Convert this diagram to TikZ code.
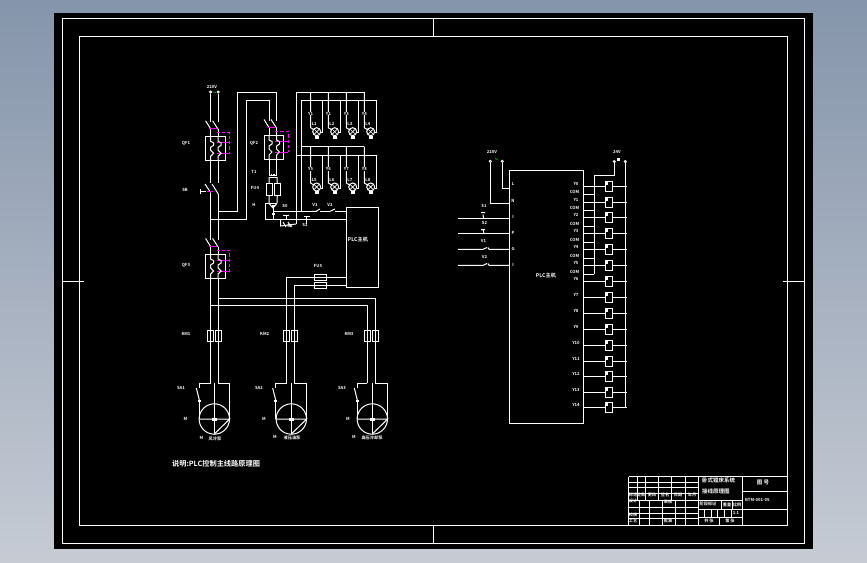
\documentclass[tikz,border=0pt]{standalone}
\usepackage{fontspec}
\setmainfont{Noto Sans CJK SC}[BoldFont={Noto Sans CJK SC Bold}]
\definecolor{bgtop}{HTML}{8595AB}
\definecolor{bgbot}{HTML}{C6CBD4}
\definecolor{mag}{HTML}{FF00FF}
\definecolor{grn}{HTML}{00D000}
\tikzset{
 wire/.style={draw=white,line width=1pt,line cap=butt,line join=miter},
 magw/.style={draw=mag,line width=1pt},
 magd/.style={draw=mag,line width=1pt,dash pattern=on 3.4pt off 2pt},
 lbl/.style={text=white,font=\fontsize{4.2pt}{5pt}\selectfont\bfseries,inner sep=0pt},
 captxt/.style={text=white,font=\fontsize{7.2pt}{8pt}\selectfont\bfseries,inner sep=0pt},
 plctxt/.style={text=white,font=\fontsize{5.2pt}{6pt}\selectfont\bfseries,inner sep=0pt},
 rectbox/.style={draw=white,line width=1pt,fill=none,inner sep=0pt,outer sep=0pt},
 coil/.style={rectbox,minimum width=7.4pt,minimum height=9.5pt},
 fusebox/.style={rectbox,minimum width=6.2pt,minimum height=11.5pt},
 hfuse/.style={rectbox,minimum width=12pt,minimum height=6.2pt},
 term/.style={draw=white,line width=0.8pt,fill=black,circle,inner sep=0pt,minimum size=2.2pt},
}
\newcommand{\breakerunit}[4]{% x of left wire, y of box top, height, name
 \begin{scope}[shift={(#1,#2)}]
  \node[rectbox,minimum width=19.4pt,minimum height=#3pt,anchor=north west] (#4) at (-4.7,0) {};
  \draw[wire] (-5,-15.5) -- (0,-7.5) (2,-15.5) -- (7.5,-7);
  \draw[wire] (0,-7.5) -- (0,0) (7.5,-7) -- (7.5,0);
  \draw[magw] (-1.5,-8) -- (6.5,-8);
  \draw[magd] (6,-4) -- (19,-4) -- (19,17);
  \draw[magw] (6,6.5) -- (19,6.5) (6,17) -- (19,17);
  \draw[wire] (0,0) -- (0,5) -- (3,6.5) -- (3,9) -- (0,11) -- (0,14) -- (3,17) -- (0,20) -- (0,#3);
  \draw[wire] (7.5,0) -- (7.5,5) -- (10.5,6.5) -- (10.5,9) -- (7.5,11) -- (7.5,14) -- (10.5,17) -- (7.5,20) -- (7.5,#3);
 \end{scope}}
\newcommand{\lampunit}[8]{% lamp x, lamp y, left wire x, left top y, right wire x, right top y, top label, lamp label
 \coordinate (lampc) at (#1,#2);
 \draw[wire] (#3,#4) -- (#3,{#2-4}) -- (lampc);
 \draw[wire] (#5,#6) -- (#5,{#2+1}) -- ({#1+4},{#2+1});
 \draw[wire,fill=black] (lampc) circle (4);
 \draw[wire,line width=0.7pt] ({#1-2.8},{#2-2.8}) -- ({#1+2.8},{#2+2.8}) ({#1-2.8},{#2+2.8}) -- ({#1+2.8},{#2-2.8});
 \node[lbl,fill=black] at (#3,{#2-18}) {#7};
 \node[lbl] at ({#3+3.5},{#2-7.5}) {#8};
 \fill[white] ({#1-2},{#2+4}) rectangle ({#1+2},{#2+7});
}
\newcommand{\motorunit}[5]{% centre x, left x, right x, wire left x, wire right x
 \coordinate (mc) at (#1,419);
 \draw[wire] (#4,383.3) -- (#2,383.3) -- (#2,388);
 \draw[wire] ({#2-3},388) -- (#2,400);
 \draw[wire] (#2,401) -- (#2,419);
 \draw[wire] (#5,383.3) -- (#3,383.3) -- (#3,419);
 \draw[wire] (#1,383.3) -- (#1,434);
 \draw[wire] (#2,419) -- (#3,419) -- (#1,434);
 \draw[wire] (mc) circle (15.2);
 \fill[white] ({#2-1.5},400) rectangle ({#2+1.5},402);
 \fill[white] ({#1-2.5},418) rectangle ({#1+2.5},421);
}
\begin{document}
\begin{tikzpicture}[x=1pt,y=-1pt]
\useasboundingbox (0,0) rectangle (867,562);
\shade[top color=bgtop,bottom color=bgbot] (0,0) rectangle (867,562);
\fill[black] (54,13) rectangle (812.7,548.7);
% frames
\draw[wire] (62.3,18.5) rectangle (804.7,543.3);
\draw[wire] (79.3,36.3) rectangle (787.5,525);
\draw[wire] (433.3,18.5) -- (433.3,36.3) (433.3,525) -- (433.3,543.3);
\draw[wire] (62.3,281) -- (84,281) (783,281) -- (804.7,281);
% ---------- left diagram: mains
\node[term] (t1) at (210.6,92) {};
\node[term] (t2) at (218.3,92) {};
\draw[green!70!black,line width=0.8pt] (213,92) -- (216,92.5);
\node[lbl] at (212,87) {220V};
\draw[wire] (t1) -- (210.6,122);
\draw[wire] (t2) -- (218.3,122);
\breakerunit{210.6}{136.3}{24.4}{qf1}
\breakerunit{269}{135}{24.3}{qf2}
\breakerunit{210.6}{254}{24.3}{qf3}
% knife switch
\draw[wire] (210.6,160.7) -- (210.6,183) (218.3,160.7) -- (218.3,183);
\draw[wire] (205,184) -- (210.6,192.5) (212,184) -- (218.3,194);
\draw[wire] (210.6,192.5) -- (210.6,240) (218.3,194) -- (218.3,240);
\draw[wire] (200,189) -- (200,194) (200,191.5) -- (206,191.5);
\draw[magw] (207,191.5) -- (213,191.5);
% branches to QF2
\draw[wire] (218.3,211.3) -- (237.7,211.3) -- (237.7,92.7) -- (276.5,92.7) -- (276.5,121);
\draw[wire] (210.6,219.3) -- (246.7,219.3) -- (246.7,100.3) -- (269,100.3) -- (269,121);
% transformer + fuses
\draw[wire] (269,159.3) -- (269,175) (276.5,159.3) -- (276.5,175);
\draw[wire] (269,175) -- (277,175);
\draw[wire,line width=0.6pt,dash pattern=on 1pt off 0.8pt] (269,173.8) -- (277,173.8);
\draw[wire] (269,177) -- (277,177);
\node[fusebox] (fa) at (269.1,189.5) {};
\node[fusebox] (fb) at (277.3,189.5) {};
\draw[wire] (269,177) -- (fa.north) (fa.south) -- (269,203.3);
\draw[wire] (277,177) -- (fb.north) (fb.south) -- (277,203.3);
% control circuit
\node[rectbox,minimum width=32.4pt,minimum height=79.7pt,anchor=north west] (plcA) at (346.3,207.3) {};
\draw[wire] (277,203.3) -- (265.3,203.3) -- (265.3,219.3) -- (plcA.west |- 0,219.3);
\draw[wire] (269.5,204) -- (273,208) -- (276.5,204);
\draw[wire] (273,208) -- (273,219.3);
\draw[wire] (273,211.3) -- (312,211.3);
\fill[white] (271.5,213) rectangle (274.5,215);
\fill[white] (271.5,204.5) rectangle (274.5,207);
\draw[wire] (320,211.3) -- (330,211.3) (335,211.3) -- (plcA.west |- 0,211.3);
\draw[wire] (312,211.3) -- (317,211.3) (316,211.3) -- (320,209);
\draw[wire] (330,211.3) -- (335,209);
% start/stop buttons
\draw[wire] (283,215) -- (289,215) (286.7,215) -- (286.7,219.3);
\draw[wire] (304,216) -- (310,216) (306.7,216) -- (306.7,224);
\draw[wire] (280.6,219.3) -- (280.6,226) -- (296,224);
\draw[wire] (283,222) -- (286,227) (288,222) -- (291,227);
% lamp buses
\draw[wire] (296,224) -- (296,92) -- (364.3,92);
\draw[wire] (301.3,211.3) -- (301.3,100.5) -- (376.7,100.5);
\draw[wire] (301.3,146.7) -- (364.3,146.7);
\draw[wire] (296,155.7) -- (376.7,155.7);
\lampunit{316.7}{131.7}{310.7}{92}{322.5}{100.5}{Y1}{L1}
\lampunit{334.7}{131.7}{328.3}{92}{340.5}{100.5}{Y2}{L2}
\lampunit{352.7}{131.7}{346.3}{92}{358.3}{100.5}{Y3}{L3}
\lampunit{370.7}{131.7}{364.3}{92}{376.7}{100.5}{Y4}{L4}
\lampunit{316.7}{187}{310.7}{146.7}{322.5}{155.7}{Y5}{L5}
\lampunit{334.7}{187}{328.3}{146.7}{340.5}{155.7}{Y6}{L6}
\lampunit{352.7}{187}{346.3}{146.7}{358.3}{155.7}{Y7}{L7}
\lampunit{370.7}{187}{364.3}{146.7}{376.7}{155.7}{Y8}{L8}
% motor feeds
\draw[wire] (210.6,278.3) -- (210.6,383.3) (218.3,278.3) -- (218.3,383.3);
\draw[wire] (218.3,298.3) -- (375.3,298.3) -- (375.3,383.3);
\draw[wire] (210.6,305.3) -- (367.3,305.3) -- (367.3,383.3);
\draw[wire] (plcA.west |- 0,277.3) -- (286.7,277.3) -- (286.7,383.3);
\draw[wire] (plcA.west |- 0,285.3) -- (294.3,285.3) -- (294.3,383.3);
\node[hfuse] (h1) at (320.7,277.5) {};
\node[hfuse] (h2) at (320.7,285.5) {};
\draw[wire] (312.5,285.3) -- (328.7,285.3);
\foreach \a/\b in {210.3/218.4,286.3/294.4,367.3/375.5}{
 \node[fusebox] at (\a,336) {};
 \node[fusebox] at (\b,336) {};
}
\draw[wire] (286.8,327) -- (286.8,345);
\draw[wire] (367.3,327) -- (367.3,341.7);
\motorunit{214.3}{199.3}{229.7}{210.6}{218.3}
\motorunit{291.3}{275.7}{306.7}{286.7}{294.3}
\motorunit{372.3}{357.3}{387.7}{367.3}{375.3}
% labels
\node[lbl] at (186,143) {QF1};
\node[lbl] at (185,190) {SB};
\node[lbl] at (186,265) {QF3};
\node[lbl] at (254,143) {QF2};
\node[lbl] at (254,172) {T1};
\node[lbl] at (255,188) {FU4};
\node[lbl] at (254,205) {H};
\node[lbl] at (285,206) {S0};
\node[lbl] at (290,226) {S1};
\node[lbl] at (305,225) {S2};
\node[lbl] at (315,205) {V1};
\node[lbl] at (330,205) {V2};
\node[lbl] at (318,266) {FU5};
\node[lbl] at (186,334) {KM1};
\node[lbl] at (264.7,334) {KM2};
\node[lbl] at (349,334) {KM3};
\node[lbl] at (181,388) {SA1};
\node[lbl] at (259,388) {SA2};
\node[lbl] at (342,388) {SA3};
\node[lbl] at (185.5,418.5) {M};
\node[lbl] at (264,419) {M};
\node[lbl] at (348,419) {M};
\node[lbl] at (201.5,437.5) {M};
\node[lbl] at (215,438.5) {风冷泵};
\node[lbl] at (275,437) {M};
\node[lbl] at (292,438) {液压油泵};
\node[lbl] at (354,437) {M};
\node[lbl] at (372,438) {高压冷却泵};
\node[plctxt] at (358,239.5) {PLC主机};
\node[captxt,anchor=west] at (172,464) {说明:PLC控制主线路原理图};
% ---------- right diagram
\node[rectbox,minimum width=74pt,minimum height=253pt,anchor=north west] (plcB) at (509.3,170.3) {};
\node[term] (r1) at (490.3,161.3) {};
\node[term] (r2) at (502.3,161.3) {};
\node[term] (r3) at (614.3,161.6) {};
\node[term] (r4) at (625.3,161.6) {};
\draw[wire] (r1) -- (490.3,203.3) -- (plcB.west |- 0,203.3);
\draw[wire] (r2) -- (502.3,188.3) -- (plcB.west |- 0,188.3);
\draw[grn,line width=0.8pt] (495,158.5) -- (497.5,159.5);
\node[lbl] at (492,152) {220V};
\node[lbl] at (617,152) {24V};
\fill[white] (617,157.5) rectangle (620,161);
\draw[wire] (r3) -- (614.3,175.3) -- (594.3,175.3) -- (594.3,274.3);
\draw[wire] (r4) -- (625.3,407.3);
% inputs
\coordinate (ia) at (458,218.3);
\coordinate (ib) at (458,233.3);
\coordinate (ic) at (458,249.3);
\coordinate (id) at (458,265.3);
\draw[wire] (ia) -- (plcB.west |- ia);
\draw[wire] (ib) -- (plcB.west |- ib);
\draw[wire] (ic) -- (483,249.3) -- (487,247.5) (488,247.5) -- (489,249.3) -- (plcB.west |- ic);
\draw[wire] (id) -- (483,265.3) -- (487,263.5) (488,263.5) -- (489,265.3) -- (plcB.west |- id);
\draw[wire] (481,212.5) -- (485,212.5) (483,214.5) -- (483.5,218.3);
\draw[wire] (481,229.5) -- (485,229.5) (483,229.5) -- (484,233.3);
\node[lbl] at (484,205.5) {S1};
\node[lbl] at (484.5,222.5) {S2};
\node[lbl] at (483.5,240.5) {V1};
\node[lbl] at (484.5,257) {V2};
\foreach \y/\t in {184/L,201/N,217/I,233/P,249/G,265/I}{
 \node[lbl] at (513,\y) {\t};
}
% outputs
\foreach \i/\y in {1/186.3,2/202.3,3/217.3,4/233.3,5/249.3,6/265.3,7/281.3,8/297.3,9/313.3,10/329.3,11/345.3,12/361.3,13/376.3,14/392.3,15/407.3}{
 \node[coil] (c\i) at (609,\y) {};
 \draw[wire] (plcB.east |- c\i) -- (c\i.west);
 \draw[wire] (c\i.east) -- (627,\y);
 \fill[white] (604.5,{\y-4}) rectangle (608,{\y-1});
 \node[lbl] at (576,{\y-2.5}) {\pgfmathparse{int(\i-1)}Y\pgfmathresult};
}
\draw[wire] (625.3,407.3) -- (c15.east);
\foreach \y in {194.3,210.3,226.3,242.3,258.3,274.3}{
 \draw[wire] (plcB.east |- 0,\y) -- (594.3,\y);
 \node[lbl] at (574.5,{\y-2.3}) {COM};
}
\node[plctxt] at (546,276) {PLC主机};
% ---------- title block
\coordinate (tl) at (628.5,476.7);
\coordinate (tr) at (787.5,476.7);
\draw[wire] (tl) -- (tr);
\draw[wire] (tl) -- (628.5,525);
\foreach \y in {482,487.5,493,500,507,513.7,518.7}{
 \draw[wire] (628.5,\y) -- (698.7,\y);
}
\foreach \x in {637,645.3,658.3,671,685}{
 \draw[wire] (\x,476.7) -- (\x,500);
}
\foreach \x in {639,649,662.7,675,685}{
 \draw[wire] (\x,500) -- (\x,525);
}
\draw[wire] (698.7,476.7) -- (698.7,525);
\draw[wire] (742.3,476.7) -- (742.3,525);
\draw[wire] (698.7,500) -- (742.3,500);
\draw[wire] (698.7,509.3) -- (742.3,509.3);
\draw[wire] (698.7,517) -- (742.3,517);
\draw[wire] (742.3,491.7) -- (787.5,491.7);
\draw[wire] (742.3,509.3) -- (787.5,509.3);
\foreach \x in {704.3,711,717.7,724.3,731.7}{
 \draw[wire] (\x,509.3) -- (\x,517);
}
\draw[wire] (721.7,500) -- (721.7,509.3) (732.3,500) -- (732.3,509.3);
\draw[wire] (719.3,517) -- (719.3,525);
\node[lbl,anchor=west,font=\fontsize{5.5pt}{6pt}\selectfont\bfseries] at (702,480) {卧式镗床系统};
\node[lbl,anchor=west,font=\fontsize{5.5pt}{6pt}\selectfont\bfseries] at (702,491) {接线原理图};
\node[lbl] at (708,503.5) {阶段标记};
\node[lbl] at (727,504.5) {重量};
\node[lbl] at (737,504.5) {比例};
\node[lbl] at (736,513) {1:1};
\node[lbl] at (709,521) {共 张};
\node[lbl] at (730,521) {第 张};
\node[lbl,font=\fontsize{5.5pt}{6pt}\selectfont\bfseries] at (763,482) {图 号};
\node[lbl,anchor=west] at (745,499.5) {BTM-001-05};
\node[lbl] at (633,495) {标记};
\node[lbl] at (641,495) {处数};
\node[lbl] at (652,495) {更改};
\node[lbl] at (665,495) {签名};
\node[lbl] at (678,495) {日期};
\node[lbl] at (692,495) {年月};
\node[lbl] at (633,501) {设计};
\node[lbl] at (633,515) {校核};
\node[lbl] at (633,521) {工艺};
\node[lbl] at (668,502) {审核};
\node[lbl] at (668,521) {批准};
\end{tikzpicture}
\end{document}
